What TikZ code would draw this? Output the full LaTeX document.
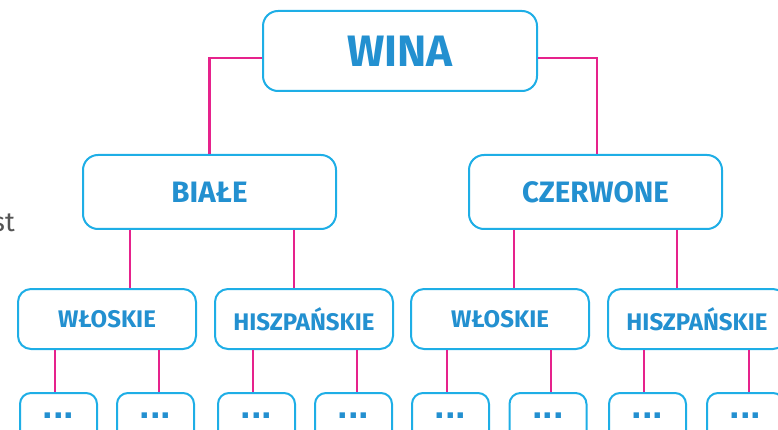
\documentclass[tikz,border=0pt]{standalone}
\usepackage{fontspec}
\setmainfont{Fira Sans}
\newfontfamily\dotfont{Liberation Sans}
\definecolor{boxblue}{HTML}{1EAEE6}
\definecolor{txtblue}{HTML}{2390D0}
\definecolor{link}{HTML}{E6228C}
\definecolor{graytxt}{HTML}{555555}
\begin{document}
\begin{tikzpicture}[x=1pt,y=-1pt,
  box/.style={draw=boxblue,line width=2pt,rounded corners=15pt,fill=white,
    text=txtblue,font=\bfseries,inner sep=0pt},
  top/.style={box,minimum width=274pt,minimum height=80pt,font=\fontsize{44}{44}\selectfont\bfseries},
  mid/.style={box,minimum width=253pt,minimum height=74pt,font=\fontsize{29.5}{29.5}\selectfont\bfseries},
  low/.style={box,minimum width=178pt,minimum height=60pt,rounded corners=13pt,font=\fontsize{24}{24}\selectfont\bfseries},
  leaf/.style={box,minimum width=77pt,minimum height=54pt,rounded corners=11pt,
    font=\dotfont\fontsize{38}{38}\selectfont\bfseries,text height=0pt,text depth=4pt},
  conn/.style={draw=link,line width=2.7pt}]
\clip (0,0) rectangle (778,430);
\useasboundingbox (0,0) rectangle (778,430);
\node[font=\fontsize{27}{27}\selectfont,text=graytxt,anchor=base east,inner sep=0pt] (st) at (15,231) {st};
\node[top] (wina) at (400,51) {WINA};
\node[mid] (biale) at (209.5,192) {BIAŁE};
\node[mid] (czer) at (595.5,192) {CZERWONE};
\node[low] (w1) at (107,319) {WŁOSKIE};
\node[low] (h1) at (304,319) {HISZPAŃSKIE};
\node[low] (w2) at (500,319) {WŁOSKIE};
\node[low] (h2) at (697,319) {HISZPAŃSKIE};
\foreach \n/\x in {a/58.5,b/155.5,c/256.5,d/353.5,e/450.5,f/548,g/647.5,h/745.5}
  \node[leaf] (l\n) at (\x,420) {...};
\draw[conn] ([yshift=-7pt]wina.west) -| (biale.north);
\draw[conn] ([yshift=-7pt]wina.east) -| ([xshift=1.5pt]czer.north);
\draw[conn] ([xshift=-79.5pt]biale.south) -- ([xshift=-79.5pt]biale.south |- w1.north);
\draw[conn] ([xshift=84.5pt]biale.south) -- ([xshift=84.5pt]biale.south |- h1.north);
\draw[conn] ([xshift=-81.5pt]czer.south) -- ([xshift=-81.5pt]czer.south |- w2.north);
\draw[conn] ([xshift=81.5pt]czer.south) -- ([xshift=81.5pt]czer.south |- h2.north);
\draw[conn] ([xshift=-52pt]w1.south) -- ([xshift=-52pt]w1.south |- la.north);
\draw[conn] ([xshift=52pt]w1.south) -- ([xshift=52pt]w1.south |- lb.north);
\draw[conn] ([xshift=-51pt]h1.south) -- ([xshift=-51pt]h1.south |- lc.north);
\draw[conn] ([xshift=53pt]h1.south) -- ([xshift=53pt]h1.south |- ld.north);
\draw[conn] ([xshift=-53pt]w2.south) -- ([xshift=-53pt]w2.south |- le.north);
\draw[conn] ([xshift=51pt]w2.south) -- ([xshift=51pt]w2.south |- lf.north);
\draw[conn] ([xshift=-53pt]h2.south) -- ([xshift=-53pt]h2.south |- lg.north);
\draw[conn] ([xshift=52pt]h2.south) -- ([xshift=52pt]h2.south |- lh.north);
\end{tikzpicture}
\end{document}
